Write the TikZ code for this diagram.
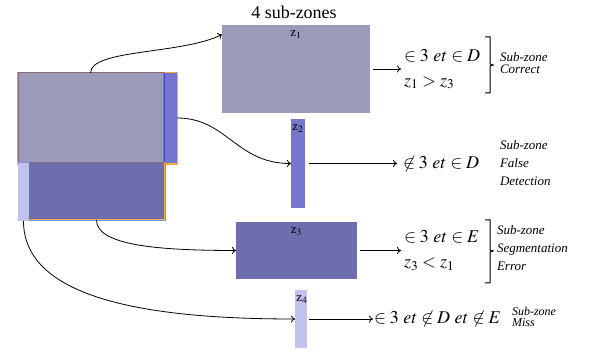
\documentclass[tikz,border=0pt]{standalone}
\usepackage{mathptmx}
\usepackage[no-math]{fontspec}
\setmainfont{Liberation Serif}
\usetikzlibrary{arrows.meta,positioning}
\definecolor{zgrey}{HTML}{9A9ABB}
\definecolor{zblue}{HTML}{7676CE}
\definecolor{zdark}{HTML}{6E6EAE}
\definecolor{zlight}{HTML}{C2C2EE}
\definecolor{zorange}{HTML}{F5A742}
\definecolor{zbrown}{HTML}{8A6A78}
\definecolor{zedge}{HTML}{6C9EE2}
\definecolor{zline}{HTML}{3D4BC9}

\begin{document}
\begin{tikzpicture}[
  x=1pt,y=-1pt,
  every node/.style={inner sep=0pt,outer sep=0pt},
  zonebox/.style={anchor=north west,draw=none},
  zonelab/.style={anchor=north,font=\fontsize{13}{14}\selectfont},
  arr/.style={-{To[length=4pt,width=7pt]},line width=0.8pt},
  restext/.style={anchor=west,align=left,font=\fontsize{18}{25}\selectfont},
  subtext/.style={anchor=west,align=left,font=\fontsize{13}{18}\selectfont\itshape},
  brk/.style={line width=1pt}
]
\useasboundingbox (0,0) rectangle (595,352);

% the segmented zone, left
\draw[zorange,line width=1.2pt] (18,73) rectangle (177,164);
\node[zonebox,fill=zgrey,draw=zbrown,line width=1pt,minimum width=145pt,minimum height=90pt] (partA) at (18,73) {};
\node[zonebox,fill=zblue,minimum width=14pt,minimum height=90pt] (partB) at (163,73) {};
\draw[zline,line width=1.5pt] ([xshift=1.5pt]partB.north west) -- ([xshift=1.5pt]partB.south west);
\draw[zedge,line width=1pt] (18,163) rectangle (165,221);
\node[zonebox,fill=zlight,minimum width=11pt,minimum height=58pt] (partD) at (18,163) {};
\node[zonebox,fill=zdark,draw=zorange,line width=1pt,minimum width=135pt,minimum height=57pt] (partC) at (29,163) {};
\draw[zbrown,line width=1pt] (partC.south west) |- (partC.north east);

% the 4 sub-zones
\node[font=\fontsize{18}{20}\selectfont] (title) at (294,12) {4 sub-zones};
\node[zonebox,fill=zgrey,minimum width=148pt,minimum height=88pt] (zone1) at (222,25) {};
\node[zonebox,fill=zblue,minimum width=14pt,minimum height=89pt] (zone2) at (291,119) {};
\node[zonebox,fill=zdark,minimum width=121pt,minimum height=57pt] (zone3) at (236,222) {};
\node[zonebox,fill=zlight,minimum width=12pt,minimum height=58pt] (zone4) at (295,290) {};
\node[zonelab] (lab1) at ([yshift=-6pt]zone1.north) {z$_1$};
\node[zonelab] (lab2) at ([yshift=-6pt]zone2.north) {z$_2$};
\node[zonelab] (lab3) at ([yshift=-6pt]zone3.north) {z$_3$};
\node[zonelab] (lab4) at ([yshift=-6pt,xshift=1pt]zone4.north) {z$_4$};

\draw[arr] (partA.north) .. controls +(0,-24) and +(-40,20) .. (zone1.155);
\draw[arr] (partB.east) .. controls +(50,0) and +(-55,0) .. (zone2.west);
\draw[arr] (partC.south) .. controls +(0,25) and +(-80,0) .. (zone3.west);
\draw[arr] (partD.south) .. controls +(0,80) and +(-140,0) .. (zone4.west);

% results
\node[restext,right=34pt of zone1] (res1) {$\in 3\ et \in D$\\$z_1 > z_3$};
\node[restext,right=98pt of zone2] (res2) {$\not\in 3\ et \in D$};
\node[restext,right=47pt of zone3] (res3) {$\in 3\ et \in E$\\$z_3 < z_1$};
\node[restext,right=67pt of zone4] (res4) {$\in 3\ et \not\in D\ et \not\in E$};
\draw[arr,shorten <=3pt,shorten >=3pt] (zone1) -- (res1);
\draw[arr,shorten <=4pt,shorten >=6pt] (zone2) -- (res2);
\draw[arr,shorten <=3pt,shorten >=3pt] (zone3) -- (res3);
\draw[arr,shorten <=2pt,shorten >=1pt] (zone4) -- (res4);

\draw[brk] (485,37) -- (490,37) -- (490,64) -- (493,65) -- (490,66) -- (490,93) -- (485,93);
\draw[brk] (485,220) -- (490,220) -- (490,250) -- (493,251) -- (490,252) -- (490,283) -- (485,283);

\node[subtext,font=\fontsize{13}{12.5}\selectfont\itshape] (sub1) at (500,63) {Sub-zone\\Correct};
\node[subtext] (sub2) at (500,163) {Sub-zone\\False\\Detection};
\node[subtext] (sub3) at (497,248) {Sub-zone\\Segmentation\\Error};
\node[subtext,font=\fontsize{12}{11.5}\selectfont\itshape] (sub4) at (512,317) {Sub-zone\\Miss};
\end{tikzpicture}
\end{document}
